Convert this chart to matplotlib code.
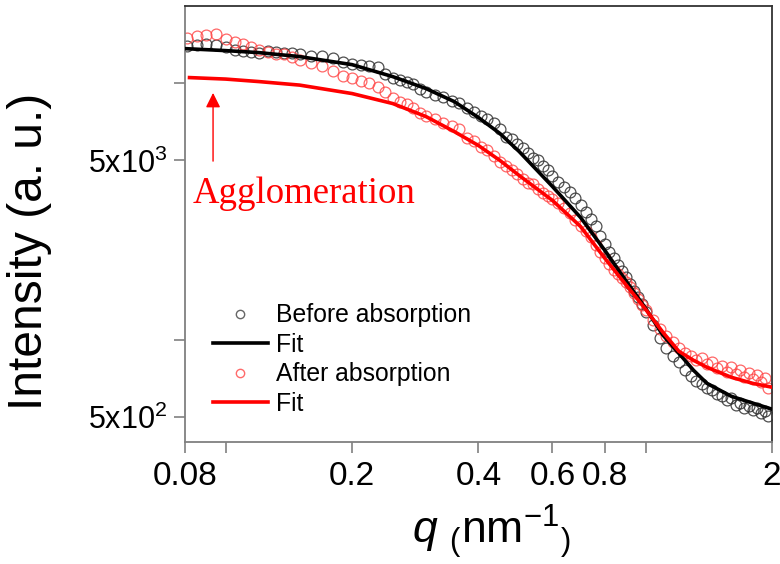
import matplotlib
matplotlib.use("Agg")
import matplotlib.pyplot as plt
from matplotlib.lines import Line2D
from matplotlib.ticker import FixedLocator, FixedFormatter, NullLocator

# ===============================
# Data (q in nm^-1, intensity in a.u.)
# ===============================
q_data = [0.081, 0.0855, 0.090, 0.095, 0.100, 0.105, 0.110, 0.115, 0.120, 0.126,
          0.132, 0.138, 0.144, 0.150,
          0.16, 0.17, 0.18, 0.19, 0.20, 0.21, 0.22, 0.23, 0.24, 0.25, 0.26, 0.27, 0.28, 0.29,
          0.300, 0.315, 0.330, 0.345, 0.360, 0.375, 0.390, 0.405, 0.420, 0.435,
          0.450, 0.465, 0.480, 0.495, 0.510, 0.525, 0.540, 0.555, 0.570, 0.585,
          0.60, 0.62, 0.64, 0.66, 0.68, 0.70, 0.72, 0.74, 0.76, 0.78,
          0.80, 0.82, 0.84, 0.86, 0.88, 0.90, 0.92, 0.94, 0.96, 0.98,
          1.00, 1.04, 1.08, 1.12, 1.16, 1.20, 1.24, 1.28, 1.32, 1.36,
          1.40, 1.44, 1.48, 1.52, 1.56, 1.60, 1.64, 1.68, 1.72, 1.76,
          1.80, 1.84, 1.88, 1.92, 1.96]

before_abs = [14010, 14140, 14260, 14140, 13890, 13520, 13400, 13280, 13160, 13400,
              13280, 13160, 13160, 13040,
              12810, 12810, 12580, 12140, 11920, 11815, 11710, 11610, 10900, 10520,
              10330, 10150, 9970, 9490,
              9280, 9030, 8870, 8560, 8410, 8040, 7755, 7480, 7280, 6970,
              6660, 6200, 6040, 5820, 5570, 5370, 5135, 5000, 4780, 4610,
              4370, 4106, 3925, 3754, 3557, 3342, 3139, 2947, 2766, 2530,
              2357, 2192, 2078, 1953, 1849, 1751, 1646, 1545, 1463, 1375,
              1282, 1140, 1014, 928, 864, 818, 762, 722, 690, 672,
              648, 636, 614, 603, 583, 593, 558, 567, 543, 552,
              534, 543, 520, 528, 504]

after_abs = [15050, 15320, 15460, 15600, 14920, 14520, 14260, 13890, 13520, 13280,
             13040, 13040, 12700, 12360,
             12030, 11710, 11200, 10710, 10520, 10240, 10060, 9705, 9280, 8793,
             8485, 8333, 8038, 7686,
             7482, 7284, 7029, 6842, 6661, 6143, 5930, 5668, 5469, 5229,
             4955, 4739, 4572, 4411, 4218, 4070, 4032, 3857, 3720, 3622,
             3525, 3403, 3253, 3110, 2921, 2766, 2647, 2507, 2334, 2192,
             2078, 1971, 1866, 1802, 1737, 1674, 1600, 1518, 1439, 1363,
             1304, 1193, 1100, 1033, 979, 928, 887, 864, 833, 848,
             804, 818, 775, 790, 748, 782, 735, 762, 715, 741,
             703, 728, 684, 708, 648]

q_fit = [0.08, 0.1, 0.12, 0.15, 0.2, 0.25, 0.3, 0.35, 0.4, 0.45, 0.5, 0.6,
         0.7, 0.8, 0.9, 1.0, 1.1, 1.2, 1.3, 1.4, 1.6, 1.8, 2.0]
fit_before = [13640, 13400, 13160, 12700, 11815, 10610, 9532, 8485, 7350, 6369, 5418, 3960,
              3000, 2231, 1691, 1328, 1043, 887, 762, 677, 603, 567, 537]
fit_after = [10520, 10380, 10150, 9834, 9115, 8333, 7415, 6485, 5718, 5000, 4371, 3495,
             2766, 2078, 1632, 1316, 1070, 903, 833, 782, 715, 677, 654]
fit_after_q0 = 0.082  # red fit starts just inside the axis

x_ticks = [0.08, 0.1, 0.2, 0.4, 0.6, 0.8, 1, 2]
x_tick_labels = ["0.08", "", "0.2", "0.4", "0.6", "0.8", "", "2"]
y_ticks = [500, 1000, 5000, 10000]
y_tick_labels = [r"$5\mathrm{x}10^{2}$", "", r"$5\mathrm{x}10^{3}$", ""]

# ===============================
# Style
# ===============================
plt.rcParams["font.family"] = ["Liberation Sans", "DejaVu Sans"]
plt.rcParams["mathtext.fontset"] = "custom"
plt.rcParams["mathtext.rm"] = "Liberation Sans"
plt.rcParams["mathtext.it"] = "Liberation Sans:italic"
plt.rcParams["mathtext.bf"] = "Liberation Sans:bold"

fig = plt.figure(figsize=(7.8, 5.64), dpi=100)
ax = fig.add_axes([0.2372, 0.2163, 0.7525, 0.7731])
ax.set_xscale("log")
ax.set_yscale("log")

ax.plot(q_data, before_abs, ls="none", marker="o", ms=7.8, mfc="none",
        mec="#303030", mew=0.9, alpha=0.85, zorder=2)
ax.plot(q_data, after_abs, ls="none", marker="o", ms=7.8, mfc="none",
        mec="#ff4040", mew=0.9, alpha=0.8, zorder=2)
ax.plot(q_fit, fit_before, color="black", lw=2.6, zorder=3)
ax.plot([fit_after_q0] + q_fit[1:], fit_after, color="#ff0000", lw=2.6, zorder=4)

ax.set_xlim(0.08, 2)
ax.set_ylim(400, 20000)

ax.xaxis.set_major_locator(FixedLocator(x_ticks))
ax.xaxis.set_major_formatter(FixedFormatter(x_tick_labels))
ax.xaxis.set_minor_locator(NullLocator())
ax.yaxis.set_major_locator(FixedLocator(y_ticks))
ax.yaxis.set_major_formatter(FixedFormatter(y_tick_labels))
ax.yaxis.set_minor_locator(NullLocator())

ax.tick_params(axis="x", direction="out", length=8, width=1.2, color="#808080",
               labelsize=24, pad=6)
ax.tick_params(axis="y", direction="out", length=8, width=1.2, color="#808080",
               labelsize=22, pad=5)

for side in ["left", "bottom"]:
    ax.spines[side].set_color("#808080")
    ax.spines[side].set_linewidth(1.3)
for side in ["top", "right"]:
    ax.spines[side].set_color("#333333")
    ax.spines[side].set_linewidth(1.3)

ax.set_ylabel("Intensity (a. u.)", fontsize=34.5)
ax.yaxis.set_label_coords(-0.226, 0.438)
ax.set_xlabel(r"$q\ {}_{(}\mathrm{nm}^{-1}{}_{)}$", fontsize=32)
ax.xaxis.set_label_coords(0.522, -0.137)

# annotation
ax.annotate("", xy=(0.0933, 9400), xytext=(0.0933, 4850),
            arrowprops=dict(arrowstyle="-|>", color="red", lw=1.0, mutation_scale=22))
ax.text(0.0836, 3400, "Agglomeration", color="red", fontsize=26.5,
        family="Liberation Serif", ha="left", va="baseline")

handles = [
    Line2D([], [], ls="none", marker="o", ms=6, mfc="none", mec="#666666", mew=1.0),
    Line2D([], [], color="black", lw=2.6),
    Line2D([], [], ls="none", marker="o", ms=6, mfc="none", mec="#ff6a6a", mew=1.0),
    Line2D([], [], color="#ff0000", lw=2.6),
]
labels = ["Before absorption", "Fit", "After absorption", "Fit"]
ax.legend(handles, labels, loc="upper left", bbox_to_anchor=(0.047, 0.318),
          frameon=False, fontsize=17.8, handlelength=2.25, handletextpad=0.3,
          labelspacing=0.22, borderpad=0, borderaxespad=0)

fig.savefig("out.png", dpi=100)
plt.close(fig)
